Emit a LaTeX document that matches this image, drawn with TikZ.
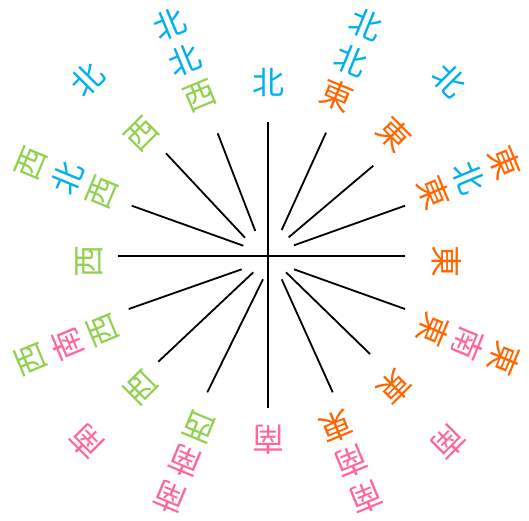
\documentclass[tikz,border=0pt]{standalone}
\usepackage{fontspec}
\newfontfamily\jpfont{Noto Sans CJK JP}
\usetikzlibrary{positioning}
\definecolor{sky}{HTML}{00B0F0}
\definecolor{tang}{HTML}{FF6600}
\definecolor{leaf}{HTML}{92D050}
\definecolor{rose}{HTML}{FF6699}
\newcommand\kN{\textcolor{sky}{北}}
\newcommand\kE{\textcolor{tang}{東}}
\newcommand\kS{\textcolor{rose}{南}}
\newcommand\kW{\textcolor{leaf}{西}}
\tikzset{
  ray/.style={draw=black,line width=1.8pt},
  kanji/.style={inner sep=0pt,font=\jpfont\fontsize{32}{32}\selectfont},
}

\begin{document}
\begin{tikzpicture}[x=1pt,y=1pt]
  \useasboundingbox (-268,-264) rectangle (261,256);
  % cross and rays
  \draw[ray] (0,133.7) -- (0,-152.3);
  \draw[ray] (-149.7,0) -- (137,0);
  \foreach \ax/\ay/\bx/\by in {13.7/26/58/123.3, 20.7/18.7/105.3/90.3, 26/10.7/137/50.3,
      26/-13.3/137/-53, 18/-16.3/102/-98, 13.7/-23.3/64.7/-136.3,
      -5/-23.3/-60.7/-136.3, -14.7/-16.3/-109.7/-105.7, -26.3/-13.3/-139.3/-53,
      -24.7/10.3/-136.3/50.3, -23/18.3/-102/102.7, -12.7/25/-50.3/122.7}
    \draw[ray] (\ax,\ay) -- (\bx,\by);
  \begin{scope}[shift={(0,-5)}]
    % inner ring: last character
    \foreach \a/\c [count=\i] in {90/\kN, 67.5/\kE, 45/\kE, 22.5/\kE, 0/\kE, -22.5/\kE,
        -45/\kE, -67.5/\kE, -90/\kS, -112.5/\kW, -135/\kW, -157.5/\kW, 180/\kW,
        157.5/\kW, 135/\kW, 112.5/\kW}
      \node[kanji,rotate=\a-90] (ka\i) at (\a:179) {\c};
    % middle ring
    \foreach \a/\c [count=\i] in {67.5/\kN, 22.5/\kN, -22.5/\kS, -67.5/\kS,
        -112.5/\kS, -157.5/\kS, 157.5/\kN, 112.5/\kN}
      \node[kanji,rotate=\a-90] (kb\i) at (\a:217) {\c};
    % outer ring: first character
    \foreach \a/\c [count=\i] in {67.5/\kN, 45/\kN, 22.5/\kE, -22.5/\kE, -45/\kS,
        -67.5/\kS, -112.5/\kS, -135/\kS, -157.5/\kW, 157.5/\kW, 135/\kN, 112.5/\kN}
      \node[kanji,rotate=\a-90] (kc\i) at (\a:256) {\c};
  \end{scope}
\end{tikzpicture}
\end{document}
